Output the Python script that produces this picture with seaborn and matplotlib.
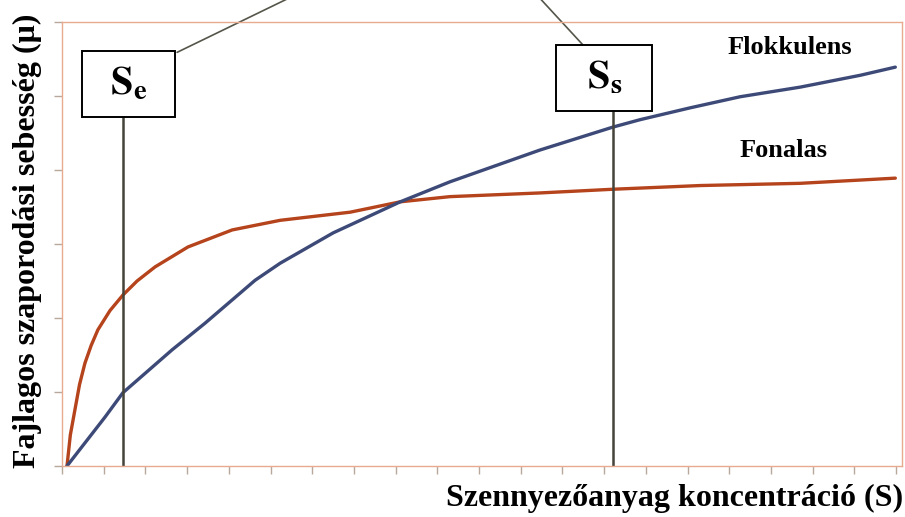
import numpy as np
import pandas as pd
import seaborn as sns
import matplotlib.pyplot as plt
from matplotlib.patches import Rectangle

# curve values (x in tick units 0..20, y in tick units 0..6)
fonalas_x = [0.12, 0.20, 0.31, 0.42, 0.55, 0.70, 0.86, 1.15, 1.46, 1.80, 2.23,
             3.02, 4.08, 5.23, 6.91, 8.11, 9.30, 11.46, 13.21, 15.30, 17.70, 19.98]
fonalas_y = [0.0, 0.42, 0.76, 1.10, 1.39, 1.63, 1.84, 2.10, 2.31, 2.50, 2.69,
             2.96, 3.19, 3.32, 3.43, 3.57, 3.64, 3.69, 3.74, 3.79, 3.82, 3.89]
flokk_x = [0.12, 1.03, 1.46, 2.64, 3.43, 4.63, 5.23, 6.50, 8.11, 9.30, 11.46,
           13.21, 13.86, 15.06, 16.26, 17.70, 19.14, 19.98]
flokk_y = [0.0, 0.66, 0.99, 1.57, 1.93, 2.51, 2.74, 3.15, 3.57, 3.84, 4.27,
           4.58, 4.68, 4.84, 4.99, 5.12, 5.28, 5.39]

x_ticks = list(range(0, 21))
y_ticks = list(range(0, 7))

# marker positions (S_e, S_s) on the x axis
s_e = 1.46
s_s = 13.21

sns.set_theme(style="white")
plt.rcParams['font.family'] = ['Liberation Serif', 'DejaVu Serif']
plt.rcParams['text.color'] = 'black'
plt.rcParams['mathtext.fontset'] = 'stix'

fig = plt.figure(figsize=(9.05, 5.17), dpi=100)
ax = fig.add_axes([62 / 905, 51 / 517, 840 / 905, 444 / 517])

df_fon = pd.DataFrame({'S': fonalas_x, 'mu': fonalas_y})
df_flo = pd.DataFrame({'S': flokk_x, 'mu': flokk_y})
sns.lineplot(data=df_fon, x='S', y='mu', ax=ax, color='#b5431c', lw=2.4, sort=False)
sns.lineplot(data=df_flo, x='S', y='mu', ax=ax, color='#3d4a78', lw=2.4, sort=False)

ax.set_xlim(0, 20.14)
ax.set_ylim(0, 6)
ax.set_xticks(x_ticks)
ax.set_yticks(y_ticks)
ax.set_xticklabels([])
ax.set_yticklabels([])
ax.tick_params(axis='both', direction='out', length=6, width=1, color='#b8a89c',
               bottom=True, left=True)
for sp in ax.spines.values():
    sp.set_color('#e8ab90')
    sp.set_linewidth(1.0)
ax.axvline(0, ymin=0, ymax=0.5, color='#777066', lw=1.3)

# vertical marker lines
line_col = '#44443a'
ax.axvline(s_e, ymin=0, ymax=4.72 / 6, color=line_col, lw=1.8)
ax.axvline(s_s, ymin=0, ymax=4.80 / 6, color=line_col, lw=1.8)

# boxes with labels
ax.add_patch(Rectangle((0.48, 4.72), 2.23, 0.89, facecolor='white',
                       edgecolor='black', lw=1.4, zorder=5))
ax.add_patch(Rectangle((11.85, 4.80), 2.30, 0.89, facecolor='white',
                       edgecolor='black', lw=1.4, zorder=5))
ax.text(1.595, 5.16, r'$\mathbf{S}_\mathbf{e}$', fontsize=29, color='black',
        ha='center', va='center', zorder=6)
ax.text(13.0, 5.24, r'$\mathbf{S}_\mathbf{s}$', fontsize=29, color='black',
        ha='center', va='center', zorder=6)

# leader lines running out of the top
ax.plot([2.76, 5.54], [5.59, 6.35], color='#55554a', lw=1.2, clip_on=False)
ax.plot([12.49, 11.41], [5.69, 6.35], color='#55554a', lw=1.2, clip_on=False)

ax.text(17.45, 5.66, 'Flokkulens', fontsize=19, fontweight='bold', color='black',
        ha='center', va='center')
ax.text(17.3, 4.27, 'Fonalas', fontsize=19, fontweight='bold', color='black',
        ha='center', va='center')

ax.set_xlabel('')
ax.set_ylabel('')
fig.text(903 / 905, 1 - 498 / 517, 'Szennyezőanyag koncentráció (S)', fontsize=23,
         fontweight='bold', color='black', ha='right', va='center')
fig.text(27 / 905, 1 - 241 / 517, 'Fajlagos szaporodási sebesség (μ)', fontsize=23,
         fontweight='bold', color='black', ha='center', va='center', rotation=90)

fig.savefig('out.png', dpi=100)
